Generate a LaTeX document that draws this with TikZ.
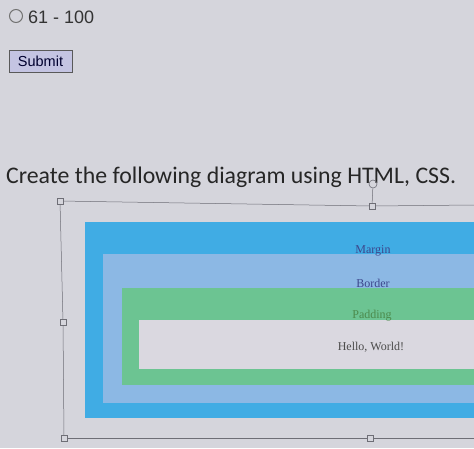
\documentclass[tikz,border=0pt]{standalone}
\usepackage{fontspec}
\setmainfont{Liberation Serif}
\newfontfamily\headfont{Carlito}
\newfontfamily\uifont{Liberation Sans}
\definecolor{paper}{RGB}{213,213,220}
\definecolor{marginblue}{RGB}{64,172,228}
\definecolor{borderblue}{RGB}{140,184,228}
\definecolor{padgreen}{RGB}{108,196,146}
\definecolor{contentgray}{RGB}{218,216,224}
\definecolor{labelblue}{RGB}{60,70,140}
\definecolor{framegray}{RGB}{110,110,118}
\definecolor{btnfill}{RGB}{196,196,226}
\tikzset{
  handle/.style={draw=framegray, fill=paper, line width=0.5pt, minimum size=6pt, inner sep=0pt, rectangle},
  frameline/.style={draw=framegray, line width=0.5pt},
  boxlabel/.style={font=\fontsize{12}{13}\selectfont, inner sep=0pt}
}
\begin{document}
\begin{tikzpicture}[x=1pt,y=-1pt]
\useasboundingbox (0,0) rectangle (474,448);
\fill[paper] (0,0) rectangle (474,448);
% top form bits
\node[circle, draw=black!55, line width=1pt, minimum size=13pt, inner sep=0pt] (radio) at (16,16) {};
\node[anchor=west, font=\uifont\fontsize{18}{20}\selectfont, text=black!80, inner sep=0pt] (range) at (28,17) {61 - 100};
\node[draw=black!65, fill=btnfill, line width=0.8pt, minimum width=63pt, minimum height=22pt, inner sep=0pt, font=\uifont\fontsize{14.5}{16}\selectfont, text=black!70!blue!60!black] (submit) at (40.5,61) {Submit};
% heading
\node[anchor=west, font=\headfont\fontsize{23.8}{27}\selectfont, text=black!85, inner sep=0pt] (head) at (6,177) {Create the following diagram using HTML, CSS.};
% diagram boxes
\begin{scope}
\clip (0,0) rectangle (474,448);
\fill[marginblue] (85,222) rectangle (480,418);
\fill[borderblue] (103,254) rectangle (480,403);
\fill[padgreen] (122,288) rectangle (480,385);
\fill[contentgray] (139,320) rectangle (480,369);
\end{scope}
\node[boxlabel, text=labelblue] (lmargin) at (373,251) {Margin};
\node[boxlabel, text=labelblue] (lborder) at (373,283) {Border};
\node[boxlabel, text=black!40!green!40!gray] (lpad) at (372,316) {Padding};
\node[boxlabel, text=black!70] (lhello) at (371,347) {Hello, World!};
% selection frame
\node[handle] (htl) at (60,201) {};
\node[handle] (htm) at (372,206) {};
\node[handle] (hml) at (63,322) {};
\node[handle] (hbl) at (64,438) {};
\node[handle] (hbm) at (370,438) {};
\coordinate (tr) at (474,205);
\coordinate (br) at (474,438);
\node[circle, draw=framegray, line width=0.6pt, minimum size=8pt, inner sep=0pt] (rot) at (373,184) {};
\draw[frameline] (htl) -- (htm) -- (tr);
\draw[frameline] (htl) -- (hml) -- (hbl);
\draw[frameline] (hbl) -- (hbm) -- (br);
\draw[frameline] (rot) -- (htm);
\end{tikzpicture}
\end{document}
